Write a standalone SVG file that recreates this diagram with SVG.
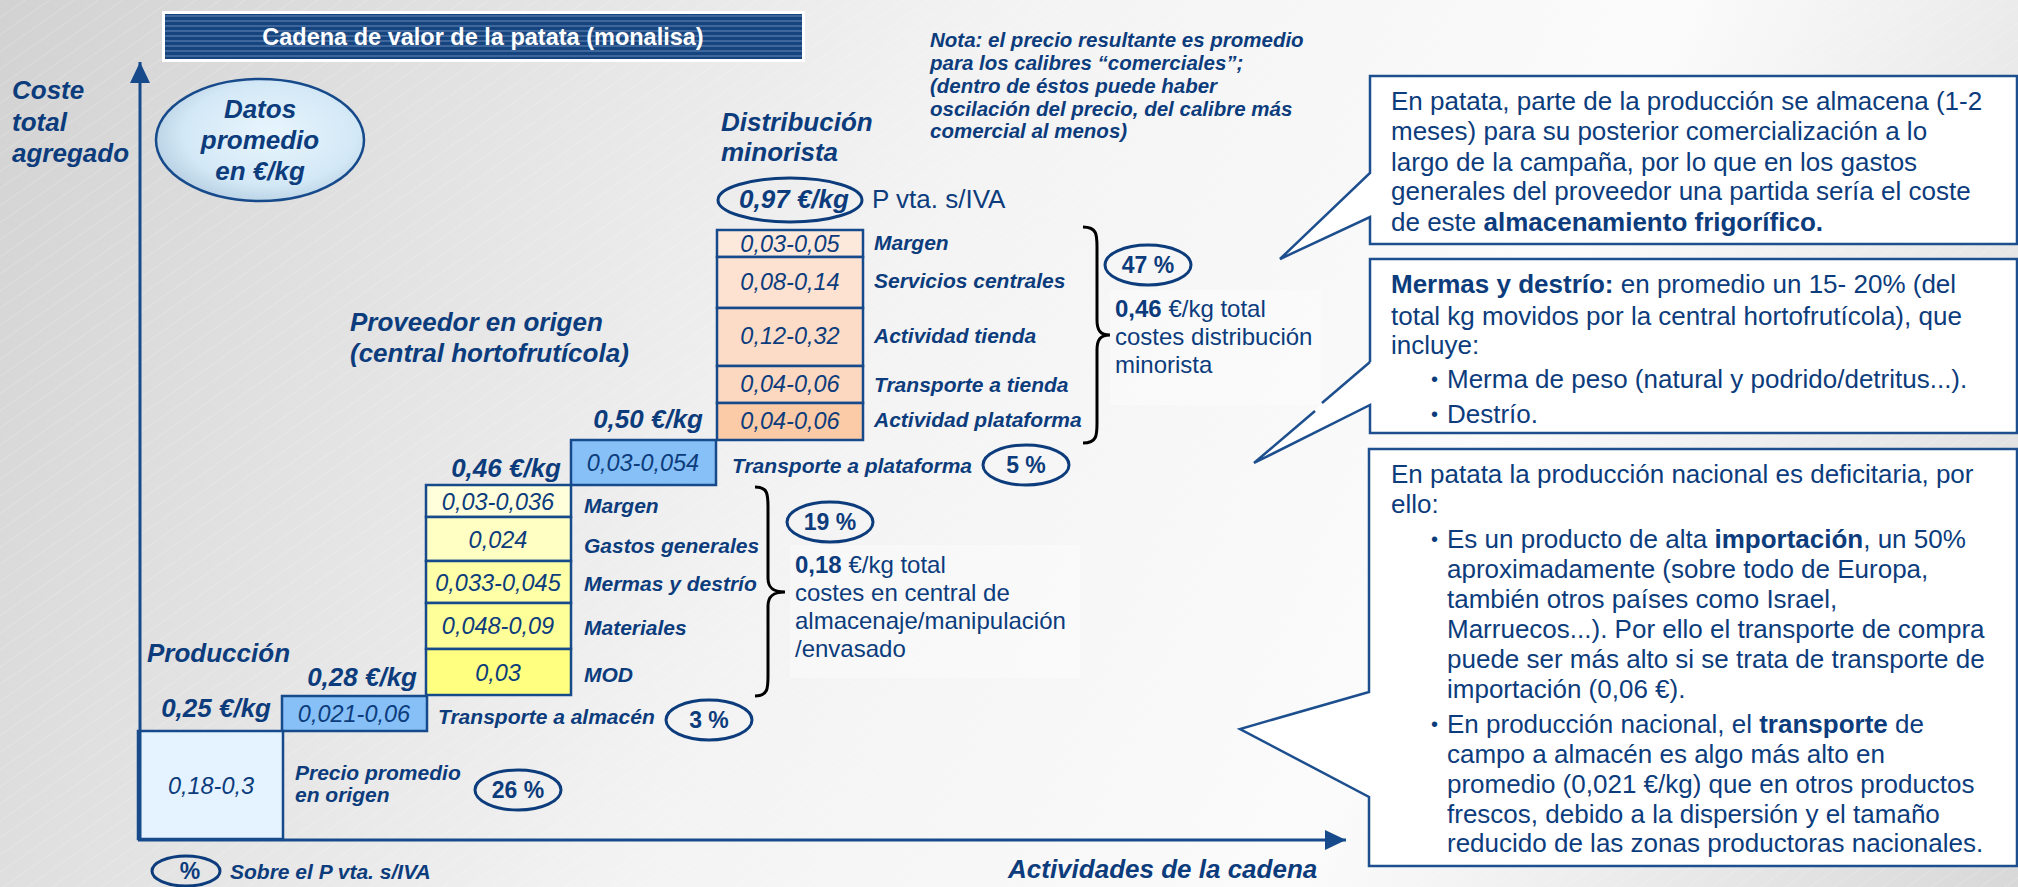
<svg xmlns="http://www.w3.org/2000/svg" width="2018" height="887" viewBox="0 0 2018 887">
<defs>
<linearGradient id="bg" gradientUnits="userSpaceOnUse" x1="0" y1="0" x2="2018" y2="887">
<stop offset="0" stop-color="#d2d2d2"/>
<stop offset="0.42" stop-color="#f3f3f3"/>
<stop offset="0.7" stop-color="#fbfbfb"/>
<stop offset="1" stop-color="#d8d8d8"/>
</linearGradient>
<pattern id="hatch" width="14" height="14" patternUnits="userSpaceOnUse" patternTransform="rotate(-35)"><line x1="0" y1="0" x2="14" y2="0" stroke="#ffffff" stroke-width="1"/></pattern>
<pattern id="stripes" width="6" height="5" patternUnits="userSpaceOnUse"><rect width="6" height="5" fill="#16447e"/><rect width="6" height="2" fill="#3f679b"/></pattern>
<radialGradient id="oval" cx="0.55" cy="0.45" r="0.6"><stop offset="0" stop-color="#e8f5fd"/><stop offset="0.7" stop-color="#d3e8f6"/><stop offset="1" stop-color="#b4cde0"/></radialGradient>
<marker id="arr" markerUnits="userSpaceOnUse" markerWidth="22" markerHeight="22" refX="21" refY="10" orient="auto"><path d="M0,0 L21,10 L0,20 Z" fill="#174a8b"/></marker>
<style>
text{font-family:"Liberation Sans",Arial,sans-serif;fill:#0c3c7c;}
.bi{font-weight:bold;font-style:italic;}
.it{font-style:italic;}
.b{font-weight:bold;}
.box{stroke:#174a8b;stroke-width:2.5;}
.pct{fill:none;stroke:#0c3c7c;stroke-width:3;}
.call{fill:#ffffff;stroke:#1d4f8e;stroke-width:2.5;}
.brace{fill:none;stroke:#000000;stroke-width:3;}
.axis{fill:none;stroke:#174a8b;stroke-width:3;}
.v{font-style:italic;font-size:23.5px;text-anchor:middle;}
.lb{font-weight:bold;font-style:italic;font-size:21px;}
.pt{font-weight:bold;font-size:23px;text-anchor:middle;}
.ct{font-size:26px;}
</style>
</defs>

<rect width="2018" height="887" fill="url(#bg)"/>
<rect width="2018" height="887" fill="url(#hatch)" opacity="0.35"/>

<g id="title">
<rect x="162" y="11" width="643" height="51" fill="#ffffff"/>
<rect x="165" y="14" width="637" height="45" fill="url(#stripes)"/>
<text x="483" y="45" text-anchor="middle" font-size="23.5" font-weight="bold" style="fill:#ffffff">Cadena de valor de la patata (monalisa)</text>
</g>

<g id="axis-labels">
<text class="bi" font-size="26"><tspan x="12" y="99">Coste</tspan><tspan x="12" y="131">total</tspan><tspan x="12" y="162">agregado</tspan></text>
<text class="bi" font-size="26" x="1008" y="878">Actividades de la cadena</text>
</g>

<g id="datos">
<ellipse cx="260" cy="140" rx="104" ry="61" fill="url(#oval)" stroke="#174a8b" stroke-width="2.5"/>
<text class="bi" font-size="26" text-anchor="middle"><tspan x="260" y="118">Datos</tspan><tspan x="260" y="149">promedio</tspan><tspan x="260" y="180">en €/kg</tspan></text>
</g>

<g id="nota">
<text class="bi" font-size="20.5"><tspan x="930" y="47">Nota: el precio resultante es promedio</tspan><tspan x="930" y="70">para los calibres “comerciales”;</tspan><tspan x="930" y="93">(dentro de éstos puede haber</tspan><tspan x="930" y="116">oscilación del precio, del calibre más</tspan><tspan x="930" y="138">comercial al menos)</tspan></text>
</g>

<g id="distribucion">
<text class="bi" font-size="26"><tspan x="721" y="131">Distribución</tspan><tspan x="721" y="161">minorista</tspan></text>
<ellipse cx="790" cy="200" rx="72" ry="22" class="pct"/>
<text class="bi" font-size="26" x="794" y="208" text-anchor="middle">0,97 €/kg</text>
<text font-size="26" x="872" y="208">P vta. s/IVA</text>
<rect x="717" y="230" width="146" height="27" fill="#fde8dc" class="box"/>
<rect x="717" y="257" width="146" height="51" fill="#fde2d2" class="box"/>
<rect x="717" y="308" width="146" height="58" fill="#fddcc7" class="box"/>
<rect x="717" y="366" width="146" height="37" fill="#fcd8c0" class="box"/>
<rect x="717" y="403" width="146" height="37" fill="#fbcaa6" class="box"/>
<text class="v" x="790" y="252">0,03-0,05</text>
<text class="v" x="790" y="290">0,08-0,14</text>
<text class="v" x="790" y="344">0,12-0,32</text>
<text class="v" x="790" y="392">0,04-0,06</text>
<text class="v" x="790" y="429">0,04-0,06</text>
<text class="lb" x="874" y="250">Margen</text>
<text class="lb" x="874" y="288">Servicios centrales</text>
<text class="lb" x="874" y="343">Actividad tienda</text>
<text class="lb" x="874" y="392">Transporte a tienda</text>
<text class="lb" x="874" y="427">Actividad plataforma</text>
<ellipse cx="1148" cy="265" rx="43" ry="20" class="pct"/>
<text class="pt" x="1148" y="273">47 %</text>
<rect x="1110" y="290" width="212" height="115" fill="#ffffff" opacity="0.35"/>
<text font-size="24"><tspan x="1115" y="317"><tspan font-weight="bold">0,46</tspan> €/kg total</tspan><tspan x="1115" y="345">costes distribución</tspan><tspan x="1115" y="373">minorista</tspan></text>
</g>

<g id="transporte-plataforma">
<text class="bi" font-size="26" x="703" y="428" text-anchor="end">0,50 €/kg</text>
<rect x="571" y="440" width="145" height="45" fill="#86c0f7" class="box"/>
<text class="v" x="643" y="471">0,03-0,054</text>
<text class="lb" x="732" y="473">Transporte a plataforma</text>
<ellipse cx="1026" cy="465" rx="43" ry="20" class="pct"/>
<text class="pt" x="1026" y="473">5 %</text>
</g>

<g id="proveedor">
<text class="bi" font-size="26"><tspan x="350" y="331">Proveedor en origen</tspan><tspan x="350" y="362">(central hortofrutícola)</tspan></text>
<text class="bi" font-size="26" x="561" y="477" text-anchor="end">0,46 €/kg</text>
<rect x="426" y="485" width="145" height="32" fill="#ffffdc" class="box"/>
<rect x="426" y="517" width="145" height="44" fill="#ffffc4" class="box"/>
<rect x="426" y="561" width="145" height="42" fill="#ffffa8" class="box"/>
<rect x="426" y="603" width="145" height="46" fill="#ffff99" class="box"/>
<rect x="426" y="649" width="145" height="46" fill="#ffff80" class="box"/>
<text class="v" x="498" y="510">0,03-0,036</text>
<text class="v" x="498" y="548">0,024</text>
<text class="v" x="498" y="591">0,033-0,045</text>
<text class="v" x="498" y="634">0,048-0,09</text>
<text class="v" x="498" y="681">0,03</text>
<text class="lb" x="584" y="513">Margen</text>
<text class="lb" x="584" y="553">Gastos generales</text>
<text class="lb" x="584" y="591">Mermas y destrío</text>
<text class="lb" x="584" y="635">Materiales</text>
<text class="lb" x="584" y="682">MOD</text>
<ellipse cx="830" cy="522" rx="43" ry="20" class="pct"/>
<text class="pt" x="830" y="530">19 %</text>
<rect x="790" y="545" width="290" height="133" fill="#ffffff" opacity="0.35"/>
<text font-size="24"><tspan x="795" y="573"><tspan font-weight="bold">0,18</tspan> €/kg total</tspan><tspan x="795" y="601">costes en central de</tspan><tspan x="795" y="629">almacenaje/manipulación</tspan><tspan x="795" y="657">/envasado</tspan></text>
</g>

<g id="transporte-almacen">
<text class="bi" font-size="26" x="417" y="686" text-anchor="end">0,28 €/kg</text>
<rect x="282" y="696" width="145" height="35" fill="#86c0f7" class="box"/>
<text class="v" x="354" y="722">0,021-0,06</text>
<text class="lb" x="438" y="724">Transporte a almacén</text>
<ellipse cx="709" cy="720" rx="43" ry="20" class="pct"/>
<text class="pt" x="709" y="728">3 %</text>
</g>

<g id="produccion">
<text class="bi" font-size="26" x="147" y="662">Producción</text>
<text class="bi" font-size="26" x="271" y="717" text-anchor="end">0,25 €/kg</text>
<rect x="138" y="731" width="145" height="108" fill="#e5f2ff" class="box"/>
<text class="v" x="211" y="794">0,18-0,3</text>
<text class="lb"><tspan x="295" y="780">Precio promedio</tspan><tspan x="295" y="802">en origen</tspan></text>
<ellipse cx="518" cy="790" rx="43" ry="20" class="pct"/>
<text class="pt" x="518" y="798">26 %</text>
</g>

<g id="leyenda">
<ellipse cx="186" cy="871" rx="34" ry="15" class="pct"/>
<text class="pt" x="190" y="879">%</text>
<text class="lb" x="230" y="879">Sobre el P vta. s/IVA</text>
</g>

<g id="connectors">
<path class="axis" d="M140,840 L140,62" marker-end="url(#arr)"/>
<path class="axis" d="M138,840 L1346,840" marker-end="url(#arr)"/>
<path class="brace" d="M1083,227 C1097,227 1097,235 1097,247 L1097,320 C1097,330 1100,335 1110,335 C1100,335 1097,340 1097,350 L1097,423 C1097,435 1097,443 1083,443"/>
<path class="brace" d="M755,487 C768,487 768,495 768,507 L768,578 C768,587 772,592 785,592 C772,592 768,597 768,606 L768,676 C768,688 768,696 755,696"/>
</g>

<g id="callout-almacenamiento">
<path class="call" d="M1370,76 L2017,76 L2017,244 L1370,244 L1370,217 L1280,259 L1370,173 Z"/>
<text class="ct"><tspan x="1391" y="110">En patata, parte de la producción se almacena (1-2</tspan><tspan x="1391" y="140">meses) para su posterior comercialización a lo</tspan><tspan x="1391" y="171">largo de la campaña, por lo que en los gastos</tspan><tspan x="1391" y="200">generales del proveedor una partida sería el coste</tspan><tspan x="1391" y="231">de este <tspan font-weight="bold">almacenamiento frigorífico.</tspan></tspan></text>
</g>

<g id="callout-mermas">
<path d="M1370,259 L2017,259 L2017,433 L1370,433 L1370,405 L1254,463 L1370,362 Z" fill="#ffffff"/>
<path fill="none" stroke="#1d4f8e" stroke-width="2.5" d="M1370,362 L1370,259 L2017,259 L2017,433 L1370,433 L1370,405 L1254,463 L1315,411"/>
<path fill="none" stroke="#1d4f8e" stroke-width="2.5" d="M1322,403 L1370,362"/>
<text class="ct"><tspan x="1391" y="293"><tspan font-weight="bold">Mermas y destrío:</tspan> en promedio un 15- 20% (del</tspan><tspan x="1391" y="325">total kg movidos por la central hortofrutícola), que</tspan><tspan x="1391" y="354">incluye:</tspan></text>
<text font-size="20" x="1431" y="386">•</text>
<text font-size="20" x="1431" y="421">•</text>
<text class="ct"><tspan x="1447" y="388">Merma de peso (natural y podrido/detritus...).</tspan><tspan x="1447" y="423">Destrío.</tspan></text>
</g>

<g id="callout-importacion">
<path class="call" d="M1369,449 L2017,449 L2017,866 L1369,866 L1369,797 L1240,729 L1369,692 Z"/>
<text class="ct"><tspan x="1391" y="483">En patata la producción nacional es deficitaria, por</tspan><tspan x="1391" y="513">ello:</tspan></text>
<text font-size="20" x="1431" y="546">•</text>
<text font-size="20" x="1431" y="731">•</text>
<text class="ct"><tspan x="1447" y="548">Es un producto de alta <tspan font-weight="bold">importación</tspan>, un 50%</tspan><tspan x="1447" y="578">aproximadamente (sobre todo de Europa,</tspan><tspan x="1447" y="608">también otros países como Israel,</tspan><tspan x="1447" y="638">Marruecos...). Por ello el transporte de compra</tspan><tspan x="1447" y="668">puede ser más alto si se trata de transporte de</tspan><tspan x="1447" y="698">importación (0,06 €).</tspan><tspan x="1447" y="733">En producción nacional, el <tspan font-weight="bold">transporte</tspan> de</tspan><tspan x="1447" y="763">campo a almacén es algo más alto en</tspan><tspan x="1447" y="793">promedio (0,021 €/kg) que en otros productos</tspan><tspan x="1447" y="823">frescos, debido a la dispersión y el tamaño</tspan><tspan x="1447" y="852">reducido de las zonas productoras nacionales.</tspan></text>
</g>
</svg>
